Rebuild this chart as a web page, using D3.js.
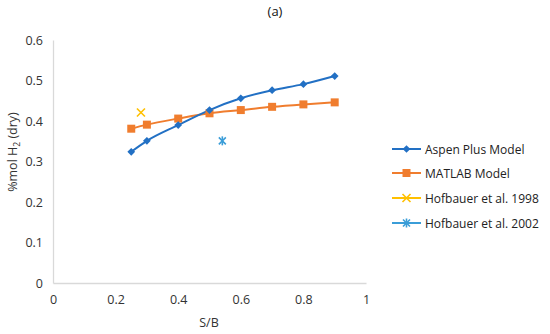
<!DOCTYPE html>
<html><head><meta charset="utf-8">
<script src="https://cdn.jsdelivr.net/npm/d3@7"></script>
<style>body{margin:0;background:#fff;} text{font-family:"Open Sans",sans-serif;}</style>
</head><body>
<svg id="c" width="550" height="334"></svg>
<script>
const sbValues = [0.25, 0.3, 0.4, 0.5, 0.6, 0.7, 0.8, 0.9];
const aspenValues = [0.324, 0.351, 0.390, 0.427, 0.456, 0.476, 0.491, 0.511];
const matlabValues = [0.381, 0.391, 0.406, 0.419, 0.427, 0.435, 0.441, 0.446];
const hof1998 = [{x: 0.281, y: 0.421}];
const hof2002 = [{x: 0.541, y: 0.351}];
const xTicks = [0, 0.2, 0.4, 0.6, 0.8, 1];
const yTicks = [0, 0.1, 0.2, 0.3, 0.4, 0.5, 0.6];
const seriesNames = ["Aspen Plus Model", "MATLAB Model", "Hofbauer et al. 1998", "Hofbauer et al. 2002"];
const colors = ["#2270C4", "#F07D2E", "#FFC000", "#3A9DD8"];

const svg = d3.select("#c");
const x = d3.scaleLinear().domain([0, 1]).range([53, 366]);
const y = d3.scaleLinear().domain([0, 0.6]).range([283, 40]);

const xAxis = d3.axisBottom(x).tickValues(xTicks).tickSize(0).tickPadding(12).tickFormat(d3.format("~g"));
const yAxis = d3.axisLeft(y).tickValues(yTicks).tickSize(0).tickPadding(10).tickFormat(d3.format("~g"));
const gx = svg.append("g").attr("transform", "translate(0,283)").call(xAxis);
const gy = svg.append("g").attr("transform", "translate(53,0)").call(yAxis);
[gx, gy].forEach(g => {
  g.select(".domain").attr("stroke", "#d9d9d9").attr("stroke-width", 1.3);
  g.selectAll("text").attr("fill", "#333").style("font-size", "12.5px").style("font-family", "Open Sans");
});

svg.append("text").attr("x", 275).attr("y", 16).attr("text-anchor", "middle").attr("fill", "#111").style("font-size", "13px").text("(a)");
svg.append("text").attr("x", 209).attr("y", 327).attr("text-anchor", "middle").attr("fill", "#333").style("font-size", "12.5px").text("S/B");
const yl = svg.append("text").attr("transform", "translate(17,152) rotate(-90)").attr("text-anchor", "middle").attr("fill", "#333").style("font-size", "12.5px");
yl.append("tspan").text("%mol H");
yl.append("tspan").attr("dy", 3).style("font-size", "8.5px").text("2");
yl.append("tspan").attr("dy", -3).text(" (dry)");

const diamond = d3.symbol().type(d3.symbolSquare).size(30);
const square = d3.symbol().type(d3.symbolSquare).size(64);

function drawX(g, cx, cy, color, s) {
  g.append("path").attr("d", `M${cx-s},${cy-s}L${cx+s},${cy+s}M${cx-s},${cy+s}L${cx+s},${cy-s}`).attr("stroke", color).attr("stroke-width", 1.6).attr("fill", "none");
}
function drawStar(g, cx, cy, color, s) {
  drawX(g, cx, cy, color, s);
  g.append("path").attr("d", `M${cx},${cy-s-1}L${cx},${cy+s+1}`).attr("stroke", color).attr("stroke-width", 1.6);
}

const aspen = sbValues.map((v, i) => ({x: v, y: aspenValues[i]}));
const matlab = sbValues.map((v, i) => ({x: v, y: matlabValues[i]}));
const line = d3.line().x(d => x(d.x)).y(d => y(d.y)).curve(d3.curveMonotoneX);

svg.append("path").datum(matlab).attr("d", line).attr("fill", "none").attr("stroke", colors[1]).attr("stroke-width", 2);
svg.append("path").datum(aspen).attr("d", line).attr("fill", "none").attr("stroke", colors[0]).attr("stroke-width", 2);
svg.selectAll(".sq").data(matlab).enter().append("path").attr("d", square)
  .attr("transform", d => `translate(${x(d.x)},${y(d.y)})`).attr("fill", colors[1]);
svg.selectAll(".dm").data(aspen).enter().append("path").attr("d", diamond)
  .attr("transform", d => `translate(${x(d.x)},${y(d.y)}) rotate(45)`).attr("fill", colors[0]);
hof1998.forEach(d => drawX(svg, x(d.x), y(d.y), colors[2], 4));
hof2002.forEach(d => drawStar(svg, x(d.x), y(d.y), colors[3], 3.5));

const legRows = [149, 173, 198, 223];
seriesNames.forEach((name, i) => {
  const g = svg.append("g");
  const ly = legRows[i];
  g.append("line").attr("x1", 392).attr("x2", 421).attr("y1", ly).attr("y2", ly).attr("stroke", colors[i]).attr("stroke-width", 2);
  const cx = 406.5;
  if (i === 0) g.append("path").attr("d", diamond).attr("transform", `translate(${cx},${ly}) rotate(45)`).attr("fill", colors[0]);
  if (i === 1) g.append("path").attr("d", square).attr("transform", `translate(${cx},${ly})`).attr("fill", colors[1]);
  if (i === 2) drawX(g, cx, ly, colors[2], 4);
  if (i === 3) drawStar(g, cx, ly, colors[3], 3.5);
  g.append("text").attr("x", 425).attr("y", ly + 4.5).attr("fill", "#222").style("font-size", "12px").text(name);
});
</script>
</body></html>
